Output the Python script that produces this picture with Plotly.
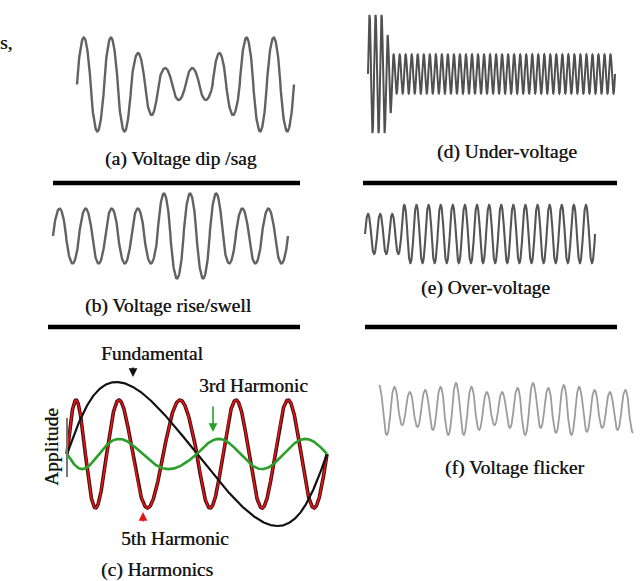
import numpy as np
import plotly.graph_objects as go

W, H = 640, 581

# ---------------- data ----------------
# (a) Voltage dip / sag : amplitude of each half-cycle (p.u.), 8 cycles
sag_half_amp = [1.0, 1.0, 1.0, 1.0, 0.67, 0.65, 0.35, 0.33,
                0.35, 0.33, 0.67, 0.65, 1.0, 1.0, 1.0, 1.0]
# (b) Voltage rise / swell : amplitude of each half-cycle (p.u.), 9 cycles
swell_half_amp = [1.0, 1.0, 1.0, 1.0, 1.0, 1.0, 1.0, 1.0,
                  1.55, 1.55, 1.55, 1.55, 1.55, 1.0,
                  1.0, 1.0, 1.0, 1.0]
# (d) Under-voltage : segments (number of cycles, amplitude p.u.)
under_seg_cycles = [3, 1, 37]
under_seg_amp = [1.0, 0.66, 0.33]
# (e) Over-voltage : segments (number of cycles, amplitude p.u.)
over_seg_cycles = [3, 16]
over_seg_amp = [0.69, 1.0]
# (f) Voltage flicker : successive peak / trough magnitudes (p.u.)
flicker_peaks = [0.92, 0.85, 0.65, 0.73, 0.85, 1.0, 0.85, 0.65, 0.65,
                 0.81, 1.0, 0.81, 0.92, 0.85, 0.73, 0.65, 0.73]
flicker_troughs = [1.0, 0.62, 0.69, 0.81, 1.0, 1.0, 0.81, 0.62, 0.73,
                   1.0, 0.73, 0.92, 1.0, 0.88, 0.73, 0.81, 0.92]
# (c) Harmonics
harm_names = ["Fundamental", "3rd Harmonic", "5th Harmonic"]
harm_order = [1, 3, 5]
harm_amp = [1.0, 0.21, 0.75]
harm_sign = [1, -1, 1]
harm_skew = [0.06, 0.05, 0.05]

captions = ["(a) Voltage dip /sag", "(b) Voltage rise/swell", "(c) Harmonics",
            "(d) Under-voltage", "(e) Over-voltage", "(f) Voltage flicker"]
axis_word = "Applitude"

# ---------------- helpers ----------------
ROUND = 0.8  # waveform peak roundness (drawing style)


def half_cycle_wave(half_amps, n=40, q=ROUND):
    t, y = [], []
    for k, a in enumerate(half_amps):
        s = np.linspace(0, 1, n, endpoint=False)
        t.extend((k + s) / 2.0)
        y.extend(a * np.sin(np.pi * s) ** q * (1 if k % 2 == 0 else -1))
    t.append(len(half_amps) / 2.0)
    y.append(0.0)
    return np.array(t), np.array(y)


def seg_to_half(cycles, amps):
    out = []
    for c, a in zip(cycles, amps):
        out += [a] * (2 * c)
    return out


def extrema_wave(ext, n=30, q=ROUND):
    t, y = [], []
    for k in range(len(ext) - 1):
        s = np.linspace(0, 1, n, endpoint=False)
        c = np.cos(np.pi * s)
        c = np.sign(c) * np.abs(c) ** q
        t.extend((k + s) / 2.0)
        y.extend((ext[k] + ext[k + 1]) / 2 + (ext[k] - ext[k + 1]) / 2 * c)
    t.append((len(ext) - 1) / 2.0)
    y.append(ext[-1])
    return np.array(t), np.array(y)


def xplace(v0, v1, p0, p1, pad=6):
    s = (p1 - p0) / (v1 - v0)
    return dict(range=[v0 - pad / s, v1 + pad / s],
                domain=[(p0 - pad) / W, (p1 + pad) / W])


def yplace(v0, v1, p0, p1, pad=6):
    # v0 (low value) at pixel p0 (lower on screen), v1 at pixel p1
    s = (p0 - p1) / (v1 - v0)
    return dict(range=[v0 - pad / s, v1 + pad / s],
                domain=[1 - (p0 + pad) / H, 1 - (p1 - pad) / H])


fig = go.Figure()
hidden = dict(visible=False, fixedrange=True)

panels = []
# (a)
ta, ya = half_cycle_wave(sag_half_amp)
panels.append((ta, ya, xplace(0, 8, 77, 294), yplace(-1, 1, 131.5, 37.5), "#626262", 2.4))
# (b)
tb, yb = half_cycle_wave(swell_half_amp)
panels.append((tb, yb, xplace(0, 9, 53, 288), yplace(-1.55, 1.55, 278.6, 193.4), "#626262", 2.4))
# (d)
td, yd = half_cycle_wave(seg_to_half(under_seg_cycles, under_seg_amp), n=24)
panels.append((td, yd, xplace(0, 41, 368, 615), yplace(-1, 1, 133, 15), "#505050", 2.0))
# (e)
te, ye = half_cycle_wave(seg_to_half(over_seg_cycles, over_seg_amp))
panels.append((te, ye, xplace(0, 19, 365, 595), yplace(-1, 1, 263, 205), "#555555", 2.1))
# (f)
ext = []
for p, q in zip(flicker_peaks, flicker_troughs):
    ext += [p, -q]
tf, yf = extrema_wave(ext)
panels.append((tf, yf, xplace(0, 16.5, 379, 633, pad=5), yplace(-1, 1, 435, 383), "#9c9c9c", 1.8))

layout_axes = {}
idx = 1
for t, y, xa, ya_, col, lw in panels:
    xn = "x" if idx == 1 else f"x{idx}"
    yn = "y" if idx == 1 else f"y{idx}"
    fig.add_trace(go.Scatter(x=t, y=y, mode="lines", xaxis=xn, yaxis=yn,
                             line=dict(color=col, width=lw), hoverinfo="skip"))
    layout_axes["xaxis" if idx == 1 else f"xaxis{idx}"] = dict(anchor=yn, **xa, **hidden)
    layout_axes["yaxis" if idx == 1 else f"yaxis{idx}"] = dict(anchor=xn, **ya_, **hidden)
    idx += 1

# (c) harmonics
hx, hy = f"x{idx}", f"y{idx}"
layout_axes[f"xaxis{idx}"] = dict(anchor=hy, **xplace(0, 1, 67, 327), **hidden)
layout_axes[f"yaxis{idx}"] = dict(anchor=hx, **yplace(-1, 1, 526, 382), **hidden)
p = np.linspace(0, 1, 800)
harm_curves = {}
for name, k, a, sg, sk in zip(harm_names, harm_order, harm_amp, harm_sign, harm_skew):
    if k == 1:
        xw = p - sk * np.sin(2 * np.pi * p)
    else:
        xw = p - sk * np.maximum(np.sin(2 * np.pi * p), 0)
    harm_curves[name] = (xw, sg * a * np.sin(2 * np.pi * k * p))

xw, yv = harm_curves["5th Harmonic"]
fig.add_trace(go.Scatter(x=xw, y=yv, mode="lines", xaxis=hx, yaxis=hy,
                         line=dict(color="#4a0c0c", width=3.6), hoverinfo="skip"))
fig.add_trace(go.Scatter(x=xw, y=yv, mode="lines", xaxis=hx, yaxis=hy,
                         line=dict(color="#e01818", width=1.6), hoverinfo="skip"))
xw, yv = harm_curves["Fundamental"]
fig.add_trace(go.Scatter(x=xw, y=yv, mode="lines", xaxis=hx, yaxis=hy,
                         line=dict(color="#111111", width=2.2), hoverinfo="skip"))
xw, yv = harm_curves["3rd Harmonic"]
fig.add_trace(go.Scatter(x=xw, y=yv, mode="lines", xaxis=hx, yaxis=hy,
                         line=dict(color="#2aa02a", width=2.6), hoverinfo="skip"))

# ---------------- decorations ----------------
def px(xp):
    return xp / W


def py(yp):
    return 1 - yp / H


shapes = []
for x0, x1, yy in [(53, 300, 183), (363, 617, 183), (48, 300, 327), (365, 617, 327)]:
    shapes.append(dict(type="line", xref="paper", yref="paper", x0=px(x0), x1=px(x1),
                       y0=py(yy), y1=py(yy), line=dict(color="#000000", width=4.5)))
# small amplitude bar in (c)
shapes.append(dict(type="line", xref="paper", yref="paper", x0=px(67), x1=px(67),
                   y0=py(418), y1=py(477), line=dict(color="#777777", width=2)))

FONT = "Liberation Serif, Times New Roman, serif"
TC = "#141414"
SHADOW = "0.5px 0 0.4px rgba(20,20,20,0.75)"
ann = []


def text(s, x, y, size=19.5, angle=0, color=TC, xanchor="center"):
    ann.append(dict(text=s, x=px(x), y=py(y),
                    xref="paper", yref="paper", showarrow=False,
                    xanchor=xanchor, yanchor="middle", textangle=angle,
                    font=dict(family=FONT, size=size, color=color, shadow=SHADOW)))


text(captions[0], 181, 159)
text(captions[1], 168, 306)
text(captions[2], 157, 570)
text(captions[3], 507, 152)
text(captions[4], 485, 288)
text(captions[5], 514, 468)
text(harm_names[0], 152, 353)
text(harm_names[1], 253, 385)
text(harm_names[2], 175, 538)
text(axis_word, 51, 447, angle=-90)
text("s,", 14, 43, xanchor="right")


def arrow(x, y_tip, y_tail, color):
    ann.append(dict(x=px(x), y=py(y_tip), xref="paper", yref="paper",
                    ax=0, ay=y_tail - y_tip, axref="pixel", ayref="pixel", text="",
                    showarrow=True, arrowhead=2, arrowsize=1.1, arrowwidth=1.6,
                    arrowcolor=color))


arrow(133, 377, 366, "#111111")
arrow(213, 432, 405, "#2aa02a")
arrow(143, 512, 523, "#e01818")

fig.update_layout(width=W, height=H, margin=dict(l=0, r=0, t=0, b=0),
                  paper_bgcolor="white", plot_bgcolor="rgba(0,0,0,0)",
                  showlegend=False, shapes=shapes, annotations=ann, **layout_axes)

fig.write_html("out.html")
